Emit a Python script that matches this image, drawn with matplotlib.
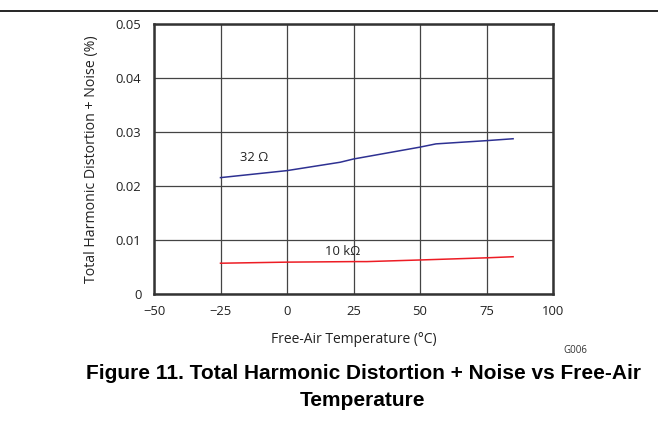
import matplotlib.pyplot as plt
from matplotlib.lines import Line2D

# data
temp_32 = [-25, 0, 20, 25, 50, 56, 75, 85]
thd_32 = [0.02155, 0.02285, 0.0244, 0.0250, 0.0272, 0.0278, 0.0284, 0.02875]
temp_10k = [-25, 0, 25, 30, 50, 75, 85]
thd_10k = [0.0057, 0.0059, 0.0060, 0.0060, 0.0063, 0.0067, 0.0069]

x_ticks = [-50, -25, 0, 25, 50, 75, 100]
x_labels = ["\u221250", "\u221225", "0", "25", "50", "75", "100"]
y_ticks = [0, 0.01, 0.02, 0.03, 0.04, 0.05]
y_labels = ["0", "0.01", "0.02", "0.03", "0.04", "0.05"]

plt.rcParams['font.family'] = ['Open Sans', 'DejaVu Sans']

W, H = 658, 423
fig = plt.figure(figsize=(W / 100, H / 100), dpi=100)
ax = fig.add_axes([154 / W, 1 - 294 / H, 399 / W, 270 / H])

ax.plot(temp_32, thd_32, color="#2e3192", lw=1.1)
ax.plot(temp_10k, thd_10k, color="#ed1c24", lw=1.1)

ax.set_xlim(-50, 100)
ax.set_ylim(0, 0.05)
ax.set_xticks(x_ticks)
ax.set_xticklabels(x_labels)
ax.set_yticks(y_ticks)
ax.set_yticklabels(y_labels)
ax.tick_params(length=0, labelsize=9.4, colors="#222222")
ax.tick_params(axis="x", pad=8)
ax.tick_params(axis="y", pad=9)
ax.grid(True, color="#444444", lw=0.9)
for s in ax.spines.values():
    s.set_linewidth(1.8)
    s.set_color("#333333")

ax.set_xlabel("Free-Air Temperature (\u00b0C)", fontsize=10, color="#222222", va="center")
ax.xaxis.set_label_coords(0.5, -(339.5 - 294) / 270)
ax.set_ylabel("Total Harmonic Distortion + Noise (%)", fontsize=10.2, color="#222222", va="center")
ax.yaxis.set_label_coords(-(154 - 91.5) / 399, 0.5)

ax.text(-12.4, 0.0252, "32 \u03a9", fontsize=9.4, ha="center", va="center", color="#222222")
ax.text(21, 0.0079, "10 k\u03a9", fontsize=9.4, ha="center", va="center", color="#222222")

fig.text(575 / W, 1 - 350 / H, "G006", fontsize=7, ha="center", va="center", color="#333333")

# top rule
fig.add_artist(Line2D([0, 1], [1 - 11 / H, 1 - 11 / H], color="black", lw=1.2))

fig.text(363 / W, 1 - 373 / H, "Figure 11. Total Harmonic Distortion + Noise vs Free-Air",
         family="Liberation Sans", weight="bold", fontsize=15, ha="center", va="center")
fig.text(363 / W, 1 - 400 / H, "Temperature",
         family="Liberation Sans", weight="bold", fontsize=15, ha="center", va="center")

fig.savefig("out.png", dpi=100)
